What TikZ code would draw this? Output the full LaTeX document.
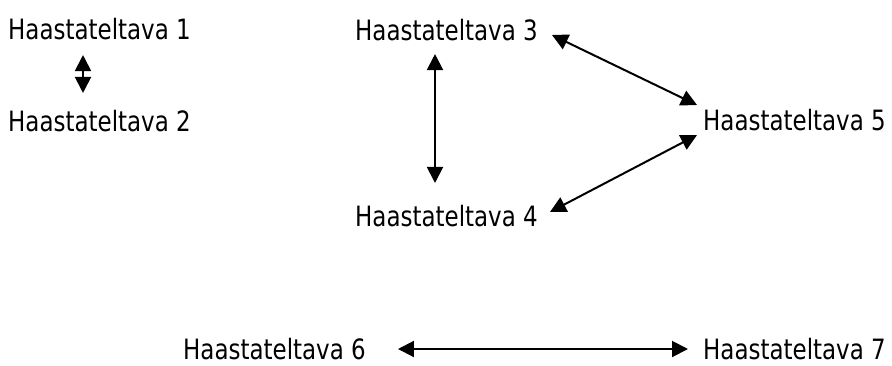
\documentclass[tikz,border=0pt]{standalone}
\usepackage{fontspec}
\setmainfont{DejaVu Sans}[FakeStretch=0.82]
\usetikzlibrary{arrows.meta, positioning, calc}
\tikzset{
  person/.style={anchor=west, inner sep=0pt, font=\fontsize{28}{32}\selectfont},
  link/.style={{Triangle[length=16pt,width=16pt]}-{Triangle[length=16pt,width=16pt]}, line width=2pt}
}

\begin{document}
\begin{tikzpicture}[x=1pt,y=-1pt]
\useasboundingbox (0,0) rectangle (892,365);

% 1 and 2
\node[person] (h1) at (8,29) {Haastateltava 1};
\node[person] (h2) at (8,121) {Haastateltava 2};
\draw[link] ([xshift=75pt,yshift=-15pt]h1.south west) -- ([xshift=75pt,yshift=17pt]h2.north west);

% 3, 4 and 5
\node[person] (h3) at (355,30) {Haastateltava 3};
\node[person] (h4) at (355,216) {Haastateltava 4};
\node[person] (h5) at (703,120) {Haastateltava 5};
\draw[link] ([xshift=14pt,yshift=-5pt]h3.east) -- ([xshift=-6pt,yshift=15pt]h5.west);
\draw[link] ([xshift=80pt,yshift=-13pt]h3.south west) -- ([xshift=80pt,yshift=22pt]h4.north west);
\draw[link] ([xshift=12pt,yshift=4pt]h4.east) -- ([xshift=-6pt,yshift=-15pt]h5.west);

% 6 and 7
\node[person] (h6) at (183,349) {Haastateltava 6};
\node[person] (h7) at (703,349) {Haastateltava 7};
\draw[link] ([xshift=32pt]h6.east) -- ([xshift=-15pt]h7.west);
\end{tikzpicture}
\end{document}
